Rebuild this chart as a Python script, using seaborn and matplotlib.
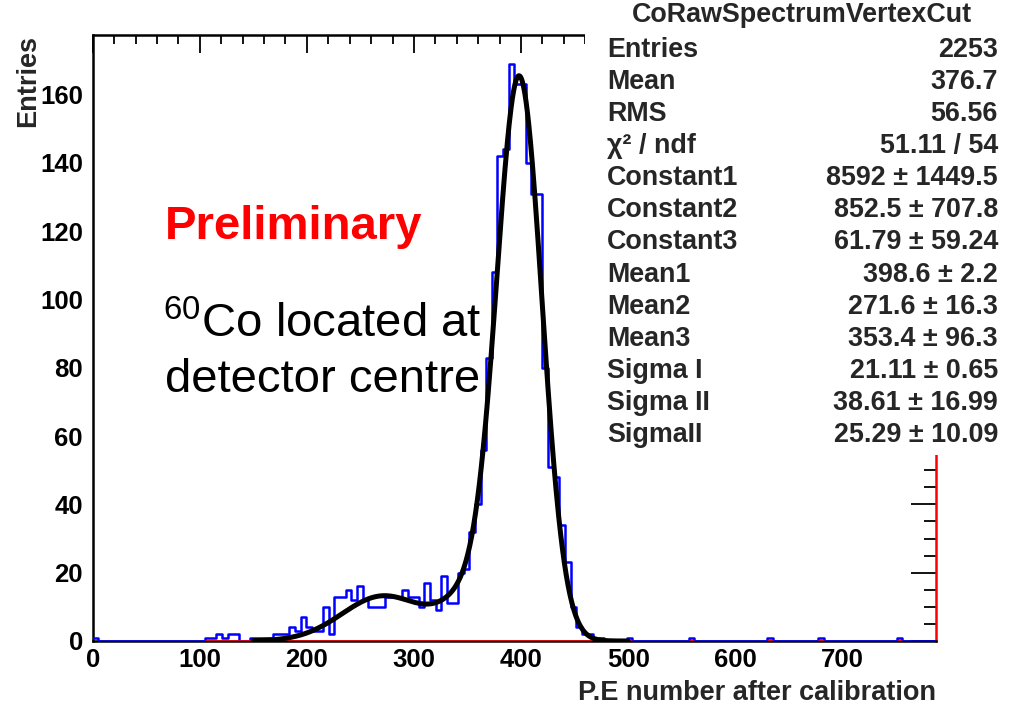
import numpy as np
import pandas as pd
import matplotlib
matplotlib.use("Agg")
import matplotlib.pyplot as plt
from matplotlib.patches import Rectangle
from matplotlib.ticker import MultipleLocator
import seaborn as sns

sns.set_style("white")
plt.rcParams["font.family"] = ["Liberation Sans", "DejaVu Sans"]
plt.rcParams["font.weight"] = "bold"
plt.rcParams["mathtext.fontset"] = "custom"
plt.rcParams["mathtext.rm"] = "Liberation Sans:regular"
plt.rcParams["mathtext.it"] = "Liberation Sans:italic:regular"
plt.rcParams["mathtext.bf"] = "Liberation Sans:bold"

# ---- histogram: P.E spectrum, 150 bins of 5.25 P.E from 0 to 787.5 ----
BIN_WIDTH = 5.25
counts = [
    1, 0, 0, 0, 0, 0, 0, 0, 0, 0,
    0, 0, 0, 0, 0, 0, 0, 0, 0, 0,
    1, 1, 2, 1, 2, 2, 0, 0, 1, 1,
    1, 1, 2, 2, 2, 4, 3, 7, 4, 3,
    3, 10, 2, 13, 13, 15, 12, 16, 12, 10,
    10, 10, 13, 13, 13, 15, 13, 13, 10, 17,
    12, 9, 19, 11, 11, 20, 21, 32, 40, 56,
    83, 108, 142, 144, 169, 163, 163, 140, 131, 131,
    80, 51, 48, 34, 23, 10, 4, 2, 2, 1,
    1, 0, 0, 0, 0, 1, 0, 0, 0, 0,
    0, 0, 0, 0, 0, 0, 1, 0, 0, 0,
    0, 0, 0, 0, 0, 0, 0, 0, 0, 0,
    1, 0, 0, 0, 0, 0, 0, 0, 0, 1,
    0, 0, 0, 0, 0, 0, 0, 0, 0, 0,
    0, 0, 0, 1, 0, 0, 0, 0, 0, 0,
]

# ---- triple-gaussian fit ----
fit_means = [398.6, 271.6, 353.4]
fit_sigmas = [21.11, 38.61, 25.29]
fit_heights = [163.0, 13.2, 12.0]
fit_range = (150.0, 500.0)

# ---- statistics box ----
stats_title = "CoRawSpectrumVertexCut"
stats_labels = ["Entries", "Mean", "RMS", "\u03c7\u00b2 / ndf", "Constant1", "Constant2",
                "Constant3", "Mean1", "Mean2", "Mean3", "Sigma I", "Sigma II", "SigmaII"]
stats_values = ["2253", "376.7", "56.56", "51.11 / 54", "8592 \u00b1 1449.5",
                "852.5 \u00b1 707.8", "61.79 \u00b1 59.24", "398.6 \u00b1 2.2",
                "271.6 \u00b1 16.3", "353.4 \u00b1 96.3", "21.11 \u00b1 0.65",
                "38.61 \u00b1 16.99", "25.29 \u00b1 10.09"]

x_label = "P.E number after calibration"
y_label = "Entries"
x_max = 787.5
y_max = 1.05 * max(counts)

W, H = 1015, 707
fig = plt.figure(figsize=(W / 100, H / 100), dpi=100)
fig.patch.set_facecolor("white")
ax = fig.add_axes([92.7 / W, 1 - 641 / H, (936 - 92.7) / W, (641 - 35) / H])

n_bins = len(counts)
edges = np.arange(n_bins + 1) * BIN_WIDTH
centers = edges[:-1] + BIN_WIDTH / 2
spec = pd.DataFrame({"pe": centers, "n": np.asarray(counts, dtype=float)})
sns.histplot(data=spec, x="pe", weights="n", binwidth=BIN_WIDTH,
             binrange=(0.0, float(edges[-1])), element="step", fill=False,
             color="#0000ff", linewidth=1.8, ax=ax, zorder=3)

# red frame line along the bottom under the populated part of the spectrum
ax.hlines(0, edges[20], edges[95], colors="red", linewidth=1.8, zorder=4)
for i, c in enumerate(counts):
    if c > 0 and i >= 95:
        ax.hlines(0, edges[i], edges[i + 1], colors="red", linewidth=1.8, zorder=4)
ax.hlines(55, x_max - 9, x_max, colors="red", linewidth=1.5, zorder=4)

xs = np.linspace(fit_range[0], fit_range[1], 600)
ys = np.zeros_like(xs)
for m, s, h in zip(fit_means, fit_sigmas, fit_heights):
    ys += h * np.exp(-0.5 * ((xs - m) / s) ** 2)
sns.lineplot(x=xs, y=ys, color="black", linewidth=3.6, ax=ax, zorder=5)

ax.set_xlim(0, x_max)
ax.set_ylim(0, y_max)
ax.set_xticks(np.arange(0, 800, 100))
ax.set_yticks(np.arange(0, 180, 20))
ax.xaxis.set_minor_locator(MultipleLocator(20))
ax.yaxis.set_minor_locator(MultipleLocator(5))
ax.tick_params(which="both", direction="in", top=True, right=True, color="black",
               width=1.3, labelsize=18.5, labelcolor="black")
ax.tick_params(axis="x", which="major", length=13, pad=5)
ax.tick_params(axis="x", which="minor", length=6.5)
ax.tick_params(axis="y", which="major", length=18, pad=7)
ax.tick_params(axis="y", which="minor", length=9)
for lbl in ax.get_xticklabels() + ax.get_yticklabels():
    lbl.set_fontweight("bold")
for side in ["left", "top", "bottom"]:
    ax.spines[side].set_color("black")
    ax.spines[side].set_linewidth(1.8)
ax.spines["right"].set_color("red")
ax.spines["right"].set_linewidth(1.8)
ax.grid(False)

ax.set_xlabel(x_label, fontsize=19.5, fontweight="bold", ha="right", va="center")
ax.xaxis.set_label_coords(1.0, (641 - 693) / 606)
ax.set_ylabel(y_label, fontsize=19.5, fontweight="bold", ha="right", va="center")
ax.yaxis.set_label_coords((28 - 92.7) / 843.3, 1.0)

# annotations
fig.text(165 / W, 1 - 227 / H, "Preliminary", color="red", fontsize=34,
         fontweight="bold", ha="left", va="center")
fig.text(163 / W, 1 - 325 / H, r"$^{60}$Co located at", color="black", fontsize=34,
         fontweight="normal", ha="left", va="center")
fig.text(165 / W, 1 - 380 / H, "detector centre", color="black", fontsize=34,
         fontweight="normal", ha="left", va="center")

# statistics box
fig.add_artist(Rectangle((585 / W, 1 - 455 / H), 1 - 585 / W, 455 / H,
                         transform=fig.transFigure, facecolor="white",
                         edgecolor="none", zorder=10))
fig.text(802 / W, 1 - 15 / H, stats_title, fontsize=19.4, fontweight="bold",
         ha="center", va="center", zorder=11)
for i, (lab, val) in enumerate(zip(stats_labels, stats_values)):
    y = 1 - (50 + 32.08 * i) / H
    fig.text(607 / W, y, lab, fontsize=19.4, fontweight="bold", ha="left",
             va="center", zorder=11)
    fig.text(998 / W, y, val, fontsize=19.4, fontweight="bold", ha="right",
             va="center", zorder=11)

fig.savefig("out.png", dpi=100, facecolor="white")
